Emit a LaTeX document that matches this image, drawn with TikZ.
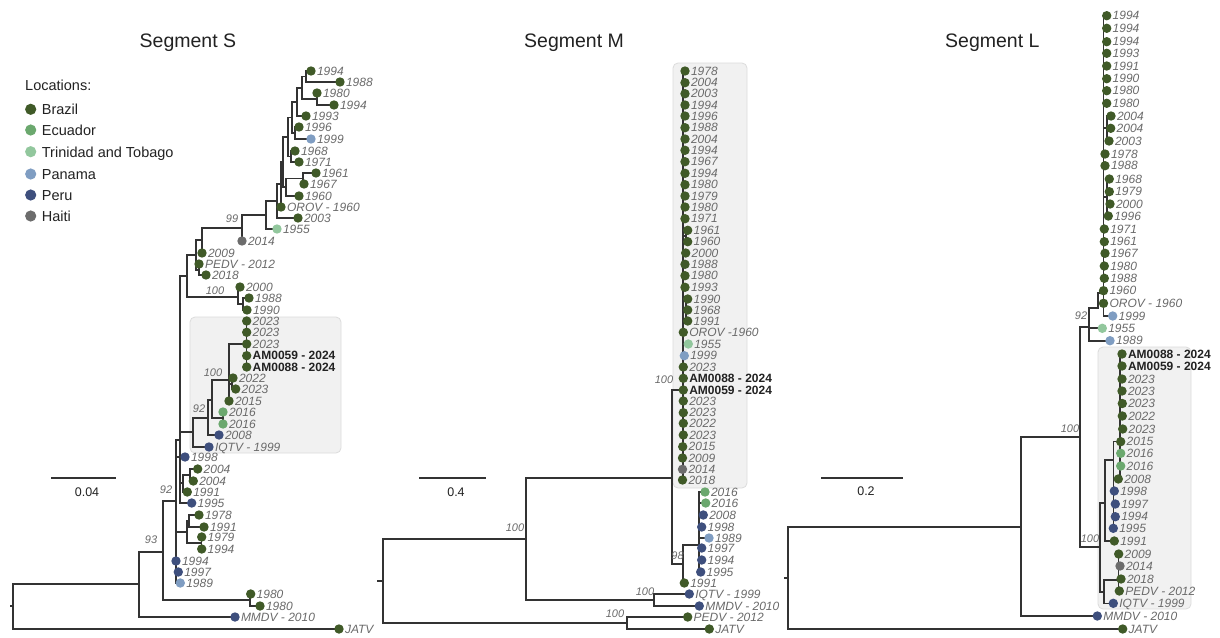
\documentclass[tikz,border=0pt]{standalone}
\usepackage{fontspec}
\setmainfont{Liberation Sans}
\definecolor{cB}{HTML}{405A28}
\definecolor{cE}{HTML}{6BA86E}
\definecolor{cT}{HTML}{92C79D}
\definecolor{cP}{HTML}{7F9DC2}
\definecolor{cR}{HTML}{3E4F7D}
\definecolor{cH}{HTML}{6C6C6C}
\definecolor{lineC}{HTML}{333333}
\definecolor{labC}{HTML}{6A6A6A}
\definecolor{darkC}{HTML}{222222}
\definecolor{boxF}{HTML}{F1F1F1}
\definecolor{boxD}{HTML}{DCDCDC}
\tikzset{
  br/.style={draw=lineC,line width=1.25pt,line cap=rect},
  tlab/.style={anchor=base west,inner sep=0pt,font=\fontsize{12}{12}\selectfont\itshape,text=labC},
  blab/.style={anchor=base west,inner sep=0pt,font=\fontsize{12}{12}\selectfont\bfseries,text=darkC},
  sup/.style={inner sep=0pt,font=\fontsize{11}{11}\selectfont\itshape,text=labC},
  ttl/.style={anchor=base west,inner sep=0pt,font=\fontsize{19.5}{19.5}\selectfont,text=darkC},
  leg/.style={anchor=base west,inner sep=0pt,font=\fontsize{14.5}{14.5}\selectfont,text=darkC},
  sclab/.style={inner sep=0pt,font=\fontsize{12.5}{12.5}\selectfont,text=darkC},
  cbox/.style={fill=boxF,draw=boxD,line width=0.8pt,rounded corners=5pt}
}
\newcommand{\tip}[4]{\fill[#3] (#1,#2) circle[radius=4.7]; \node[tlab] at (#1+5.8,#2+4.2) {#4};}
\newcommand{\tipb}[4]{\fill[#3] (#1,#2) circle[radius=4.7]; \node[blab] at (#1+5.8,#2+4.2) {#4};}
\begin{document}
\begin{tikzpicture}[x=1pt,y=-1pt]
\useasboundingbox (0,0) rectangle (1220,637);
\fill[white] (0,0) rectangle (1220,637);
% titles
\node[ttl] (tS) at (139.5,47) {Segment S};
\node[ttl] (tM) at (524,47) {Segment M};
\node[ttl] (tL) at (945,47) {Segment L};
% legend
\node[leg] (lh) at (25,90) {Locations:};
\fill[cB] (30.7,109.3) circle[radius=5.6]; \node[leg] (l1) at (41.7,114.7) {Brazil};
\fill[cE] (30.7,130) circle[radius=5.6]; \node[leg] (l2) at (41.7,135.4) {Ecuador};
\fill[cT] (30.7,151.7) circle[radius=5.6]; \node[leg] (l3) at (41.7,157.1) {Trinidad and Tobago};
\fill[cP] (30.7,174) circle[radius=5.6]; \node[leg] (l4) at (41.7,179.4) {Panama};
\fill[cR] (30.7,195) circle[radius=5.6]; \node[leg] (l5) at (41.7,200.4) {Peru};
\fill[cH] (30.7,216) circle[radius=5.6]; \node[leg] (l6) at (41.7,221.4) {Haiti};
% boxes
\draw[cbox] (190,317) rectangle (341,453);
\draw[cbox] (673,63) rectangle (747,488);
\draw[cbox] (1098,347) rectangle (1191,609);
% scale bars
\draw[br] (52,478)--(115,478); \node[sclab] (s1) at (87,492) {0.04};
\draw[br] (420,478)--(485,478); \node[sclab] (s2) at (456,492) {0.4};
\draw[br] (822,478)--(902,478); \node[sclab] (s3) at (866,491) {0.2};
% ===== Segment S branches
\draw[br]
(11,606)--(13,606) (13,584)--(13,629) (13,629)--(339,629) (13,584)--(139,584)
(139,552)--(139,617) (139,617)--(235,617) (139,552)--(163,552)
(163,501)--(163,600) (163,600)--(250,600) (250,594)--(250,606) (250,606)--(260,606)
(163,501)--(176,501)
(176,440)--(176,583) (176,457)--(185,457) (176,572)--(178.3,572) (176,583)--(180.3,583)
(176,532)--(187,532) (187,521)--(187,543) (187,521)--(189,521) (189,515)--(189,527) (189,515)--(199,515) (189,527)--(204,527) (187,543)--(201.7,543) (201.7,537)--(201.7,549)
(176,440)--(180,440) (180,276)--(180,503) (180,503)--(191.7,503)
(180,483)--(183,483) (183,475)--(183,492) (183,475)--(190,475) (190,469)--(190,481) (190,469)--(197.7,469) (190,481)--(193.3,481) (183,492)--(187.3,492)
(180,432)--(193,432) (193,418)--(193,447) (193,447)--(209,447)
(193,418)--(208,418) (208,400)--(208,435) (208,435)--(219,435)
(208,400)--(212,400) (212,380)--(212,418) (212,418)--(223,418) (223,412)--(223,424)
(212,380)--(229,380) (229,344)--(229,401) (229,384)--(232,384) (232,378)--(232,389) (232,389)--(235.7,389)
(229,344)--(246.7,344) (246.7,321)--(246.7,367)
(180,276)--(187,276) (187,255)--(187,297)
(187,297)--(238,297) (238,287)--(238,304) (238,287)--(240,287) (238,304)--(243,304) (243,298)--(243,310) (243,298)--(249,298) (243,310)--(247,310)
(187,255)--(196,255) (196,240)--(196,270) (196,270)--(199,270) (199,264)--(199,275) (199,275)--(206,275)
(196,240)--(202,240) (202,228)--(202,253)
(202,228)--(242,228) (242,215)--(242,241)
(242,215)--(266,215) (266,201)--(266,229) (266,229)--(277,229)
(266,201)--(277,201) (277,184)--(277,218) (277,218)--(298,218)
(277,184)--(281,184) (281,162)--(281,207)
(281,162)--(283,162) (283,137)--(283,187)
(283,187)--(286,187) (286,178.5)--(286,196) (286,196)--(299,196) (286,178.5)--(303,178.5) (303,173)--(303,184) (303,173)--(316,173) (303,184)--(304,184)
(283,137)--(288,137) (288,117.5)--(288,156.5) (288,156.5)--(291,156.5) (291,151)--(291,162) (291,151)--(295,151) (291,162)--(299,162)
(288,117.5)--(292,117.5) (292,102)--(292,133) (292,133)--(295,133) (295,127)--(295,139) (295,127)--(299,127) (295,139)--(311,139)
(292,102)--(297,102) (297,88)--(297,116) (297,116)--(306,116)
(297,88)--(302,88) (302,76.5)--(302,99)
(302,76.5)--(306,76.5) (306,71)--(306,82) (306,71)--(311,71) (306,82)--(340,82)
(302,99)--(317,99) (317,93)--(317,105) (317,105)--(334,105);
% ===== Segment M branches
\draw[br]
(378,581)--(383,581) (383,539)--(383,623) (383,623)--(627,623) (627,617)--(627,629) (627,617)--(687.7,617) (627,629)--(709.3,629)
(383,539)--(526,539) (526,478)--(526,600) (526,600)--(654,600) (654,594)--(654,606) (654,594)--(689.3,594) (654,606)--(699.3,606)
(526,478)--(672,478) (672,390)--(672,564) (672,390)--(683,390)
(672,564)--(683,564) (683,545)--(683,583) (683,583)--(684.3,583)
(683,545)--(699,545) (699,492)--(699,572)
(699,492)--(705,492) (699,503)--(705.7,503) (699,515)--(703.3,515) (699,527)--(701.7,527) (699,538)--(709,538) (699,548)--(701.7,548) (699,560)--(701.7,560) (699,572)--(700.7,572)
(683,71)--(683,480)
(683,236)--(686,236) (686,230.3)--(686,241.7) (686,230.3)--(687.7,230.3) (686,241.7)--(687.7,241.7)
(683,310)--(686,310) (686,299)--(686,321) (686,299)--(687.7,299) (686,321)--(687.7,321)
(683,344)--(688.3,344);
% ===== Segment L branches
\draw[br]
(785,578)--(788,578) (788,527)--(788,629) (788,629)--(1122.7,629)
(788,527)--(1021,527) (1021,437)--(1021,616) (1021,616)--(1097.3,616)
(1021,437)--(1080,437) (1080,327)--(1080,547)
(1080,327)--(1089,327) (1089,308)--(1089,341) (1089,328)--(1102.3,328) (1089,341)--(1110,341)
(1089,308)--(1098,308) (1098,293)--(1098,308) (1098,293)--(1103.5,293)
(1103.5,15.7)--(1103.5,316) (1103.5,316)--(1112.7,316)
(1103.5,128)--(1107,128) (1107,116)--(1107,141) (1107,116)--(1111,116) (1107,141)--(1109,141)
(1103.5,197)--(1107,197) (1107,179)--(1107,216) (1107,179)--(1109.3,179) (1107,191.7)--(1109.3,191.7) (1107,204)--(1110,204)
(1080,547)--(1100,547) (1100,503)--(1100,592)
(1100,503)--(1105,503) (1105,460)--(1105,541) (1105,541)--(1114.3,541)
(1105,460)--(1113.3,460) (1113.3,441.7)--(1113.3,528.3)
(1113.3,491)--(1114.3,491) (1113.3,504)--(1115.3,504) (1113.3,516.7)--(1115.3,516.7)
(1113.3,441.7)--(1120,441.7) (1120,354)--(1120,479)
(1100,592)--(1104,592) (1104,580)--(1104,603.3) (1104,603.3)--(1113.3,603.3) (1104,580)--(1118.5,580) (1118.5,554)--(1118.5,591);
% ===== support values
\node[sup] (b1) at (232,219) {99};
\node[sup] (b2) at (215,291) {100};
\node[sup] (b3) at (213,373) {100};
\node[sup] (b4) at (199,409) {92};
\node[sup] (b5) at (166,490) {92};
\node[sup] (b6) at (151,540) {93};
\node[sup] (b7) at (664,380) {100};
\node[sup] (b8) at (515,528) {100};
\node[sup] (b9) at (677.5,556) {98};
\node[sup] (b10) at (645,592) {100};
\node[sup] (b11) at (615,614) {100};
\node[sup] (b12) at (1081,316) {92};
\node[sup] (b13) at (1070,429) {100};
\node[sup] (b14) at (1090,539) {100};
% ===== Segment S tips
\tip{311}{71}{cB}{1994}
\tip{340}{82}{cB}{1988}
\tip{317}{93}{cB}{1980}
\tip{334}{105}{cB}{1994}
\tip{306}{116}{cB}{1993}
\tip{299}{127}{cB}{1996}
\tip{311}{139}{cP}{1999}
\tip{295}{151}{cB}{1968}
\tip{299}{162}{cB}{1971}
\tip{316}{173}{cB}{1961}
\tip{304}{184}{cB}{1967}
\tip{299}{196}{cB}{1960}
\tip{281}{207}{cB}{OROV - 1960}
\tip{298}{218}{cB}{2003}
\tip{277}{229}{cT}{1955}
\tip{242}{241}{cH}{2014}
\tip{202}{253}{cB}{2009}
\tip{199}{264}{cB}{PEDV - 2012}
\tip{206}{275}{cB}{2018}
\tip{240}{287}{cB}{2000}
\tip{249}{298}{cB}{1988}
\tip{247}{310}{cB}{1990}
\tip{246.7}{321}{cB}{2023}
\tip{246.7}{332.3}{cB}{2023}
\tip{246.7}{344}{cB}{2023}
\tipb{246.7}{355.7}{cB}{AM0059 - 2024}
\tipb{246.7}{367}{cB}{AM0088 - 2024}
\tip{233}{378}{cB}{2022}
\tip{235.7}{389}{cB}{2023}
\tip{229}{401}{cB}{2015}
\tip{223}{412}{cE}{2016}
\tip{223}{424}{cE}{2016}
\tip{219}{435}{cR}{2008}
\tip{209}{447}{cR}{IQTV - 1999}
\tip{185}{457}{cR}{1998}
\tip{197.7}{469}{cB}{2004}
\tip{193.3}{481}{cB}{2004}
\tip{187.3}{492}{cB}{1991}
\tip{191.7}{503}{cR}{1995}
\tip{199}{515}{cB}{1978}
\tip{204}{527}{cB}{1991}
\tip{201.7}{537}{cB}{1979}
\tip{201.7}{549}{cB}{1994}
\tip{176}{561}{cR}{1994}
\tip{178.3}{572}{cR}{1997}
\tip{180.3}{583}{cP}{1989}
\tip{250.7}{594}{cB}{1980}
\tip{260}{606}{cB}{1980}
\tip{235}{617}{cR}{MMDV - 2010}
\tip{339}{629}{cB}{JATV}
% ===== Segment M tips
\tip{685}{71}{cB}{1978}
\tip{685}{82.7}{cB}{2004}
\tip{685}{93.7}{cB}{2003}
\tip{685}{105}{cB}{1994}
\tip{685}{116}{cB}{1996}
\tip{685}{127.7}{cB}{1988}
\tip{685}{139}{cB}{2004}
\tip{685}{150.3}{cB}{1994}
\tip{685}{161.7}{cB}{1967}
\tip{685}{173.3}{cB}{1994}
\tip{685}{184.7}{cB}{1980}
\tip{685}{196}{cB}{1979}
\tip{685}{207}{cB}{1980}
\tip{685}{218.7}{cB}{1971}
\tip{687.7}{230.3}{cB}{1961}
\tip{687.7}{241.7}{cB}{1960}
\tip{685.7}{253}{cB}{2000}
\tip{685}{264.3}{cB}{1988}
\tip{685}{275.7}{cB}{1980}
\tip{685}{287.3}{cB}{1993}
\tip{687.7}{299}{cB}{1990}
\tip{687.7}{310}{cB}{1968}
\tip{687.7}{321}{cB}{1991}
\tip{683.3}{332.3}{cB}{OROV -1960}
\tip{688.3}{344}{cT}{1955}
\tip{684.3}{355.7}{cP}{1999}
\tip{683.3}{367}{cB}{2023}
\tipb{683.3}{378.3}{cB}{AM0088 - 2024}
\tipb{683.3}{390}{cB}{AM0059 - 2024}
\tip{683.3}{401}{cB}{2023}
\tip{683.3}{412.7}{cB}{2023}
\tip{683.3}{423.3}{cB}{2022}
\tip{683.3}{435}{cB}{2023}
\tip{682.7}{446.7}{cB}{2015}
\tip{682.5}{458}{cB}{2009}
\tip{682.5}{469.3}{cH}{2014}
\tip{682.5}{480}{cB}{2018}
\tip{705}{492}{cE}{2016}
\tip{705.7}{503}{cE}{2016}
\tip{703.3}{515}{cR}{2008}
\tip{701.7}{527}{cR}{1998}
\tip{709}{538}{cP}{1989}
\tip{701.7}{548}{cR}{1997}
\tip{701.7}{560}{cR}{1994}
\tip{700.7}{572}{cR}{1995}
\tip{684.3}{583}{cB}{1991}
\tip{689.3}{594}{cR}{IQTV - 1999}
\tip{699.3}{606}{cR}{MMDV - 2010}
\tip{687.7}{617}{cB}{PEDV - 2012}
\tip{709.3}{629}{cB}{JATV}
% ===== Segment L tips
\tip{1106.7}{15.7}{cB}{1994}
\tip{1106.7}{28.3}{cB}{1994}
\tip{1106.7}{41.7}{cB}{1994}
\tip{1106.7}{53.3}{cB}{1993}
\tip{1106.7}{66}{cB}{1991}
\tip{1106.7}{78.7}{cB}{1990}
\tip{1106.7}{90.7}{cB}{1980}
\tip{1106.7}{103.3}{cB}{1980}
\tip{1111}{116}{cB}{2004}
\tip{1110.7}{128.3}{cB}{2004}
\tip{1109}{141}{cB}{2003}
\tip{1105}{154}{cB}{1978}
\tip{1105}{165.7}{cB}{1988}
\tip{1109.3}{179}{cB}{1968}
\tip{1109.3}{191.7}{cB}{1979}
\tip{1110}{204}{cB}{2000}
\tip{1108.3}{216}{cB}{1996}
\tip{1104.3}{229}{cB}{1971}
\tip{1104.3}{241.7}{cB}{1961}
\tip{1105}{253.3}{cB}{1967}
\tip{1104.3}{266}{cB}{1980}
\tip{1104.3}{278.3}{cB}{1988}
\tip{1103.5}{290.7}{cB}{1960}
\tip{1103.5}{303.3}{cB}{OROV - 1960}
\tip{1112.7}{316}{cP}{1999}
\tip{1102.3}{328.3}{cT}{1955}
\tip{1110}{340.7}{cP}{1989}
\tipb{1122}{354}{cB}{AM0088 - 2024}
\tipb{1122}{366}{cB}{AM0059 - 2024}
\tip{1122}{379}{cB}{2023}
\tip{1122}{391}{cB}{2023}
\tip{1122.3}{403.5}{cB}{2023}
\tip{1122.3}{416}{cB}{2022}
\tip{1122.7}{429}{cB}{2023}
\tip{1120.7}{441.7}{cB}{2015}
\tip{1120.7}{453.3}{cE}{2016}
\tip{1120.7}{466}{cE}{2016}
\tip{1118.3}{479}{cB}{2008}
\tip{1114.3}{491}{cR}{1998}
\tip{1115.3}{504}{cR}{1997}
\tip{1115.3}{516.7}{cR}{1994}
\tip{1113.3}{528.3}{cR}{1995}
\tip{1114.3}{541}{cB}{1991}
\tip{1118.7}{554}{cB}{2009}
\tip{1120}{566}{cH}{2014}
\tip{1121}{579}{cB}{2018}
\tip{1119.3}{591}{cB}{PEDV - 2012}
\tip{1113.3}{603.3}{cR}{IQTV - 1999}
\tip{1097.3}{616}{cR}{MMDV - 2010}
\tip{1122.7}{629}{cB}{JATV}
\end{tikzpicture}
\end{document}
